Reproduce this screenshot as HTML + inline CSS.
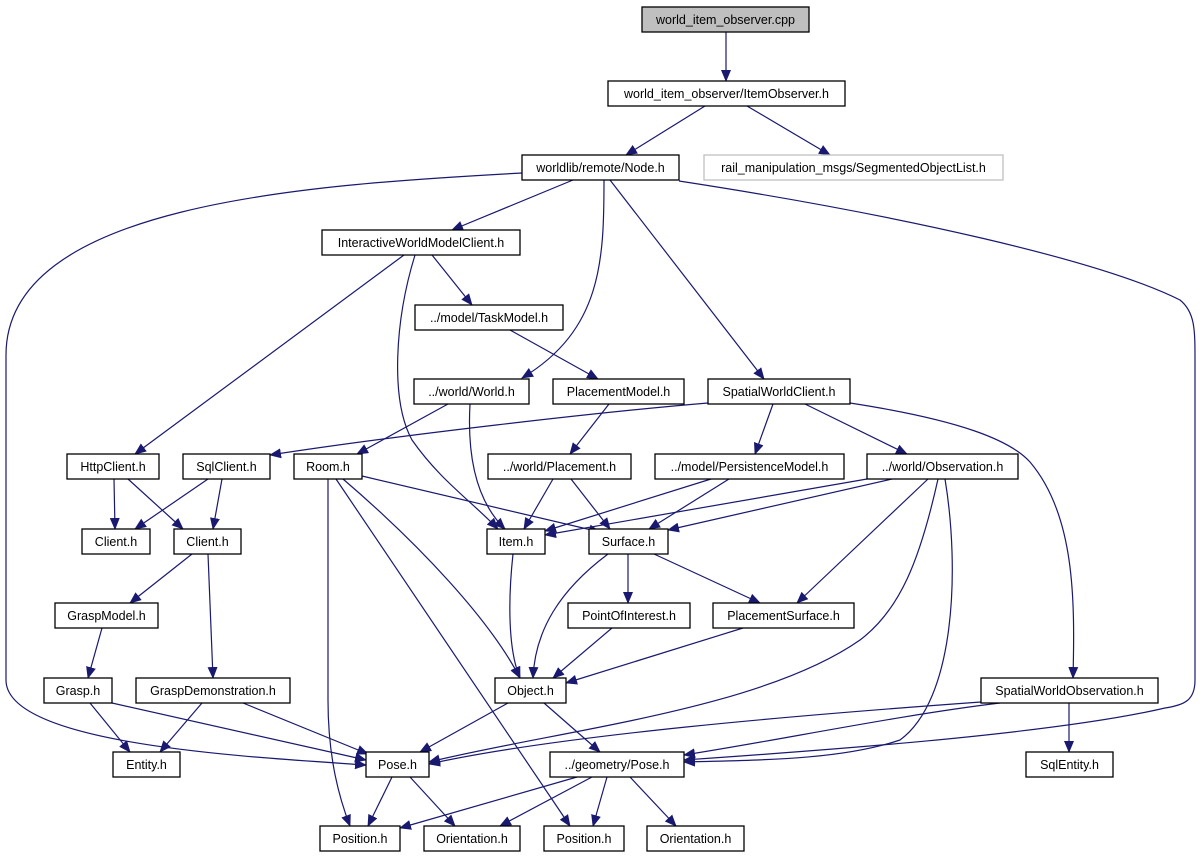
<!DOCTYPE html>
<html><head><meta charset="utf-8"><style>
html,body{margin:0;padding:0;background:#fff;}
svg{display:block;}
text{font-family:"Liberation Sans",sans-serif;font-size:12.5px;fill:#000;}
.e{fill:none;stroke:#191970;stroke-width:1.2;}
.n{fill:#fff;stroke:#000;stroke-width:1.3;}
</style></head><body>
<svg width="1202" height="859" viewBox="0 0 1202 859" xmlns="http://www.w3.org/2000/svg">
<defs>
<marker id="a" markerWidth="12" markerHeight="10" refX="11" refY="5" orient="auto" markerUnits="userSpaceOnUse">
<path d="M0,0 L12,5 L0,10 Z" fill="#191970"/>
</marker>
</defs>
<g marker-end="url(#a)">
<path class="e" d="M726,32 L726,81"/>
<path class="e" d="M705,106 L626,155"/>
<path class="e" d="M747,106 L830,155"/>
<path class="e" d="M573,180 L452,230"/>
<path class="e" d="M522,173 C300,185 6,205 6,355 L6,680 C6,745 250,757 366,765"/>
<path class="e" d="M604,180 C604,260 602,330 522,378"/>
<path class="e" d="M610,180 L764,379"/>
<path class="e" d="M679,181 C900,215 1100,260 1180,300 C1195,312 1195,330 1195,360 L1195,680 C1195,700 1185,705 1165,708 C1050,735 800,752 684,760"/>
<path class="e" d="M404,255 L135,454"/>
<path class="e" d="M415,255 C395,320 390,400 412,440 C440,480 470,500 498,529"/>
<path class="e" d="M432,255 L472,305"/>
<path class="e" d="M510,330 L598,379"/>
<path class="e" d="M448,404 L357,454"/>
<path class="e" d="M470,404 C468,440 470,495 505,529"/>
<path class="e" d="M609,404 L570,454"/>
<path class="e" d="M708,403 C600,412 400,435 270,455"/>
<path class="e" d="M773,404 L755,454"/>
<path class="e" d="M805,404 L907,454"/>
<path class="e" d="M850,403 C960,420 1010,440 1030,462 C1075,515 1075,600 1073,678"/>
<path class="e" d="M114,479 L115,529"/>
<path class="e" d="M128,479 L183,529"/>
<path class="e" d="M208,479 L135,529"/>
<path class="e" d="M222,479 L213,529"/>
<path class="e" d="M362,476 L600,532"/>
<path class="e" d="M343,479 C420,545 490,620 520,678"/>
<path class="e" d="M336,479 L570,826"/>
<path class="e" d="M328,479 L328,700 C328,760 340,800 350,826"/>
<path class="e" d="M553,479 L524,529"/>
<path class="e" d="M571,479 L610,529"/>
<path class="e" d="M711,479 L545,531"/>
<path class="e" d="M729,479 L649,529"/>
<path class="e" d="M867,479 L545,535"/>
<path class="e" d="M892,479 L668,530"/>
<path class="e" d="M928,479 L797,603"/>
<path class="e" d="M938,479 C920,560 900,610 860,640 C760,710 560,730 429,762"/>
<path class="e" d="M945,479 C960,570 955,700 900,740 C840,760 760,760 684,762"/>
<path class="e" d="M192,554 L130,603"/>
<path class="e" d="M208,554 L213,678"/>
<path class="e" d="M102,628 L88,678"/>
<path class="e" d="M90,703 L130,752"/>
<path class="e" d="M112,703 L366,760"/>
<path class="e" d="M202,703 L160,752"/>
<path class="e" d="M243,703 L368,754"/>
<path class="e" d="M513,554 C508,600 508,650 520,678"/>
<path class="e" d="M608,554 C560,590 535,630 533,678"/>
<path class="e" d="M628,554 L628,603"/>
<path class="e" d="M654,554 L760,603"/>
<path class="e" d="M612,628 L553,678"/>
<path class="e" d="M743,628 L566,683"/>
<path class="e" d="M508,703 L420,752"/>
<path class="e" d="M544,703 L600,752"/>
<path class="e" d="M981,702 C800,715 560,735 429,764"/>
<path class="e" d="M1000,703 C900,715 780,740 684,755"/>
<path class="e" d="M1069,703 L1069,752"/>
<path class="e" d="M392,777 L368,826"/>
<path class="e" d="M410,777 L455,826"/>
<path class="e" d="M577,777 L400,828"/>
<path class="e" d="M592,777 L500,826"/>
<path class="e" d="M607,777 L593,826"/>
<path class="e" d="M630,777 L676,826"/>
</g>
<g>
<rect x="642" y="7" width="167" height="25" fill="#bfbfbf" stroke="#000" stroke-width="1.3"/><text x="725.5" y="24" text-anchor="middle">world_item_observer.cpp</text>
<rect class="n" x="608" y="81" width="237" height="25"/><text x="726.5" y="98" text-anchor="middle">world_item_observer/ItemObserver.h</text>
<rect class="n" x="522" y="155" width="157" height="25"/><text x="600.5" y="172" text-anchor="middle">worldlib/remote/Node.h</text>
<rect x="704" y="155" width="299" height="25" fill="#fff" stroke="#bfbfbf" stroke-width="1.3"/><text x="853.5" y="172" text-anchor="middle">rail_manipulation_msgs/SegmentedObjectList.h</text>
<rect class="n" x="322" y="230" width="198" height="25"/><text x="421" y="247" text-anchor="middle">InteractiveWorldModelClient.h</text>
<rect class="n" x="415" y="305" width="148" height="25"/><text x="489" y="322" text-anchor="middle">../model/TaskModel.h</text>
<rect class="n" x="414" y="379" width="115" height="25"/><text x="471.5" y="396" text-anchor="middle">../world/World.h</text>
<rect class="n" x="553" y="379" width="131" height="25"/><text x="618.5" y="396" text-anchor="middle">PlacementModel.h</text>
<rect class="n" x="708" y="379" width="142" height="25"/><text x="779" y="396" text-anchor="middle">SpatialWorldClient.h</text>
<rect class="n" x="67" y="454" width="92" height="25"/><text x="113" y="471" text-anchor="middle">HttpClient.h</text>
<rect class="n" x="183" y="454" width="87" height="25"/><text x="226.5" y="471" text-anchor="middle">SqlClient.h</text>
<rect class="n" x="294" y="454" width="68" height="25"/><text x="328" y="471" text-anchor="middle">Room.h</text>
<rect class="n" x="488" y="454" width="143" height="25"/><text x="559.5" y="471" text-anchor="middle">../world/Placement.h</text>
<rect class="n" x="655" y="454" width="189" height="25"/><text x="749.5" y="471" text-anchor="middle">../model/PersistenceModel.h</text>
<rect class="n" x="867" y="454" width="151" height="25"/><text x="942.5" y="471" text-anchor="middle">../world/Observation.h</text>
<rect class="n" x="82" y="529" width="68" height="25"/><text x="116" y="546" text-anchor="middle">Client.h</text>
<rect class="n" x="174" y="529" width="67" height="25"/><text x="207.5" y="546" text-anchor="middle">Client.h</text>
<rect class="n" x="487" y="529" width="58" height="25"/><text x="516" y="546" text-anchor="middle">Item.h</text>
<rect class="n" x="589" y="529" width="79" height="25"/><text x="628.5" y="546" text-anchor="middle">Surface.h</text>
<rect class="n" x="55" y="603" width="103" height="25"/><text x="106.5" y="620" text-anchor="middle">GraspModel.h</text>
<rect class="n" x="568" y="603" width="122" height="25"/><text x="629" y="620" text-anchor="middle">PointOfInterest.h</text>
<rect class="n" x="713" y="603" width="141" height="25"/><text x="783.5" y="620" text-anchor="middle">PlacementSurface.h</text>
<rect class="n" x="44" y="678" width="68" height="25"/><text x="78" y="695" text-anchor="middle">Grasp.h</text>
<rect class="n" x="136" y="678" width="154" height="25"/><text x="213" y="695" text-anchor="middle">GraspDemonstration.h</text>
<rect class="n" x="495" y="678" width="71" height="25"/><text x="530.5" y="695" text-anchor="middle">Object.h</text>
<rect class="n" x="981" y="678" width="177" height="25"/><text x="1069.5" y="695" text-anchor="middle">SpatialWorldObservation.h</text>
<rect class="n" x="113" y="752" width="67" height="25"/><text x="146.5" y="769" text-anchor="middle">Entity.h</text>
<rect class="n" x="366" y="752" width="63" height="25"/><text x="397.5" y="769" text-anchor="middle">Pose.h</text>
<rect class="n" x="550" y="752" width="134" height="25"/><text x="617" y="769" text-anchor="middle">../geometry/Pose.h</text>
<rect class="n" x="1026" y="752" width="87" height="25"/><text x="1069.5" y="769" text-anchor="middle">SqlEntity.h</text>
<rect class="n" x="320" y="826" width="80" height="25"/><text x="360" y="843" text-anchor="middle">Position.h</text>
<rect class="n" x="424" y="826" width="96" height="25"/><text x="472" y="843" text-anchor="middle">Orientation.h</text>
<rect class="n" x="544" y="826" width="80" height="25"/><text x="584" y="843" text-anchor="middle">Position.h</text>
<rect class="n" x="647" y="826" width="97" height="25"/><text x="695.5" y="843" text-anchor="middle">Orientation.h</text>
</g>
</svg>
</body></html>
